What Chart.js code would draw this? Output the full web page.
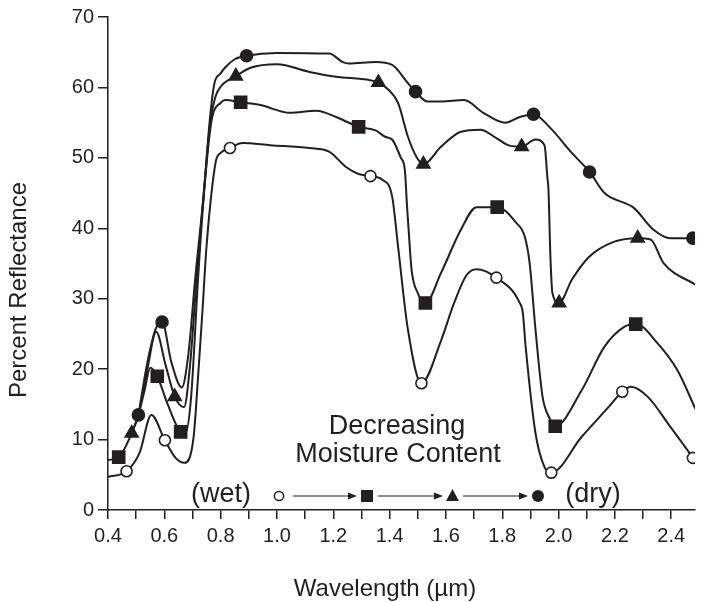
<!DOCTYPE html>
<html>
<head>
<meta charset="utf-8">
<script src="https://cdn.jsdelivr.net/npm/chart.js@4"></script>
<style>
  html, body { margin: 0; padding: 0; background: #fff; }
  canvas { display: block; }
</style>
</head>
<body>
<canvas id="reflChart" width="705" height="602"></canvas>
<script>
// wavelength (um) / percent reflectance
var wetX = [0.40, 0.466, 0.512, 0.554, 0.602, 0.64, 0.672, 0.704, 0.72, 0.735, 0.749, 0.766, 0.784, 0.80, 0.833, 0.878, 0.976, 1.115, 1.185, 1.245, 1.29, 1.332, 1.374, 1.409, 1.43, 1.465, 1.513, 1.583, 1.629, 1.674, 1.709, 1.779, 1.862, 1.873, 1.883, 1.918, 1.95, 1.974, 2.082, 2.177, 2.226, 2.257, 2.316, 2.397, 2.477, 2.49];
var wetY = [4.7, 5.5, 8.1, 13.5, 9.9, 7.4, 6.7, 10.4, 19, 28, 37, 44.5, 49.7, 50.7, 51.4, 52.1, 51.8, 51.4, 50.9, 48.7, 47.7, 47.4, 46.9, 44.5, 37.4, 25.6, 18.0, 24.1, 29.4, 33.4, 34.2, 33.0, 29.4, 28.0, 23.2, 10.9, 6.1, 5.3, 10.4, 14.6, 16.8, 17.5, 16.1, 11.8, 7.4, 6.6];

var sqX = [0.40, 0.438, 0.484, 0.508, 0.53, 0.55, 0.575, 0.61, 0.658, 0.675, 0.695, 0.72, 0.739, 0.763, 0.775, 0.80, 0.815, 0.871, 0.941, 1.046, 1.14, 1.21, 1.29, 1.35, 1.384, 1.409, 1.44, 1.454, 1.462, 1.468, 1.478, 1.50, 1.527, 1.583, 1.653, 1.709, 1.782, 1.849, 1.88, 1.897, 1.918, 1.943, 1.967, 1.988, 2.082, 2.163, 2.233, 2.274, 2.351, 2.421, 2.49];
var sqY = [7.1, 7.5, 10.9, 13.5, 17, 20.2, 19.0, 15.2, 11.1, 10.9, 16, 33, 44, 54, 56.5, 57.8, 58.2, 57.9, 57.5, 56.4, 56.7, 55.8, 54.4, 53.9, 53.0, 52.6, 50, 48.3, 43, 39.5, 34.1, 30.8, 29.4, 33.7, 39.8, 43.0, 43.0, 40.8, 38.8, 35.1, 25.6, 16.1, 13.1, 11.9, 17.0, 23.2, 26.0, 26.4, 23.7, 19.9, 14.0];

var triX = [0.484, 0.508, 0.54, 0.571, 0.605, 0.637, 0.67, 0.69, 0.715, 0.739, 0.763, 0.78, 0.80, 0.854, 0.906, 1.0, 1.115, 1.21, 1.36, 1.395, 1.43, 1.465, 1.496, 1.52, 1.583, 1.653, 1.723, 1.779, 1.828, 1.869, 1.918, 1.95, 1.96, 1.964, 1.971, 1.978, 2.002, 2.047, 2.107, 2.198, 2.281, 2.327, 2.372, 2.49];
var triY = [10.9, 13.5, 20, 25.3, 20.5, 16.1, 14.6, 20, 33, 44.5, 55, 58.5, 60.1, 61.6, 62.8, 63.3, 62.2, 61.5, 60.7, 59.7, 57.8, 53.0, 50.1, 49.1, 51.6, 53.7, 54.0, 52.8, 51.7, 51.6, 52.6, 51.8, 47.3, 45.5, 35.9, 30.8, 29.4, 32.7, 35.9, 38.1, 38.6, 38.4, 35.1, 31.9];

var dryX = [0.508, 0.54, 0.57, 0.592, 0.625, 0.662, 0.685, 0.71, 0.739, 0.763, 0.778, 0.80, 0.815, 0.85, 0.892, 1.0, 1.185, 1.234, 1.255, 1.35, 1.409, 1.465, 1.492, 1.534, 1.583, 1.664, 1.733, 1.81, 1.862, 1.911, 1.967, 2.047, 2.11, 2.163, 2.267, 2.337, 2.397, 2.477, 2.49];
var dryY = [13.5, 21, 25.8, 26.7, 21, 17.4, 22, 33, 44.5, 56, 60.6, 62.0, 62.8, 64.0, 64.5, 64.9, 64.8, 63.6, 63.4, 63.6, 63.2, 60.6, 59.4, 58.0, 58.0, 58.2, 56.4, 55.0, 55.8, 56.2, 54.4, 50.7, 48.0, 45.0, 42.9, 39.8, 38.6, 38.6, 38.6];

// marker positions on each curve
var wetMarkX = [0.466, 0.602, 0.833, 1.332, 1.513, 1.779, 1.974, 2.226, 2.477];
var wetMarkY = [5.5, 9.9, 51.4, 47.4, 18.0, 33.0, 5.3, 16.8, 7.4];
var sqMarkX = [0.438, 0.575, 0.658, 0.871, 1.29, 1.527, 1.782, 1.988, 2.274];
var sqMarkY = [7.5, 19.0, 11.1, 57.9, 54.4, 29.4, 43.0, 11.9, 26.4];
var triMarkX = [0.484, 0.637, 0.854, 1.36, 1.52, 1.869, 2.002, 2.281];
var triMarkY = [10.9, 16.1, 61.6, 60.7, 49.1, 51.6, 29.4, 38.6];
var dryMarkX = [0.508, 0.592, 0.892, 1.492, 1.911, 2.11, 2.477];
var dryMarkY = [13.5, 26.7, 64.5, 59.4, 56.2, 48.0, 38.6];

var xTickLabels = ['0.4', '0.6', '0.8', '1.0', '1.2', '1.4', '1.6', '1.8', '2.0', '2.2', '2.4'];

var ink = '#231f20';
var FONT = '"Liberation Sans", Arial, Helvetica, sans-serif';

function pts(xs, ys) {
    return xs.map(function (x, i) { return { x: x, y: ys[i] }; });
}

function curve(xs, ys) {
    return {
        data: pts(xs, ys),
        showLine: true,
        borderColor: ink,
        borderWidth: 2,
        pointRadius: 0,
        cubicInterpolationMode: 'monotone',
        order: 1
    };
}

function marks(xs, ys, style, r, fill) {
    return {
        data: pts(xs, ys),
        showLine: false,
        pointStyle: style,
        pointRadius: r,
        pointBackgroundColor: fill,
        pointBorderColor: ink,
        pointBorderWidth: 1.6,
        order: 0
    };
}

// text and the wet -> dry key drawn over the plot
var notes = {
    id: 'notes',
    afterDraw: function (chart) {
        var c = chart.ctx;
        c.save();
        c.fillStyle = ink;
        c.strokeStyle = ink;
        c.textAlign = 'center';
        c.textBaseline = 'alphabetic';
        c.font = '27px ' + FONT;
        c.fillText('Decreasing', 397, 434);
        c.fillText('Moisture Content', 398, 462);
        c.fillText('(wet)', 221, 502);
        c.fillText('(dry)', 593, 502);

        var y = 496;
        c.lineWidth = 1.5;
        c.beginPath();
        c.arc(279, y, 4.6, 0, Math.PI * 2);
        c.fillStyle = '#fff';
        c.fill();
        c.stroke();
        c.fillStyle = ink;
        [[293, 357], [378, 443], [463, 528]].forEach(function (a) {
            c.lineWidth = 1.2;
            c.beginPath();
            c.moveTo(a[0], y);
            c.lineTo(a[1] - 6, y);
            c.stroke();
            c.beginPath();
            c.moveTo(a[1], y);
            c.lineTo(a[1] - 9, y - 3.5);
            c.lineTo(a[1] - 9, y + 3.5);
            c.closePath();
            c.fill();
        });
        c.fillRect(361, 490, 12, 12);
        c.beginPath();
        c.moveTo(452.5, 489);
        c.lineTo(459, 501);
        c.lineTo(446, 501);
        c.closePath();
        c.fill();
        c.beginPath();
        c.arc(538, y, 6, 0, Math.PI * 2);
        c.fill();

        c.font = '24px ' + FONT;
        c.fillText('Wavelength (\u00b5m)', 385, 596);
        c.translate(26, 290);
        c.rotate(-Math.PI / 2);
        c.fillText('Percent Reflectance', 0, 0);
        c.restore();
    }
};

new Chart(document.getElementById('reflChart').getContext('2d'), {
    type: 'scatter',
    data: {
        datasets: [
            marks(wetMarkX, wetMarkY, 'circle', 5.5, '#fff'),
            marks(sqMarkX, sqMarkY, 'rect', 8.5, ink),
            marks(triMarkX, triMarkY, 'triangle', 7.5, ink),
            marks(dryMarkX, dryMarkY, 'circle', 6, ink),
            curve(wetX, wetY),
            curve(sqX, sqY),
            curve(triX, triY),
            curve(dryX, dryY)
        ]
    },
    options: {
        responsive: false,
        animation: false,
        layout: { padding: { left: 0, right: 0, top: 17, bottom: 0 } },
        plugins: { legend: { display: false }, tooltip: { enabled: false } },
        scales: {
            x: {
                type: 'linear',
                min: 0.4,
                max: 2.484,
                afterFit: function (scale) { scale.height = 92; },
                border: { display: true, color: ink, width: 1.5 },
                grid: { drawOnChartArea: false, drawTicks: true, tickLength: 9, color: ink, lineWidth: 1.5 },
                ticks: {
                    stepSize: 0.1,
                    includeBounds: false,
                    autoSkip: false,
                    maxRotation: 0,
                    padding: 5,
                    color: ink,
                    font: { family: FONT, size: 20 },
                    callback: function (v) {
                        var k = Math.round(v * 10);
                        if (k % 2 !== 0) return '';
                        return xTickLabels[(k - 4) / 2];
                    }
                }
            },
            y: {
                min: 0,
                max: 70,
                afterFit: function (scale) { scale.width = 108; },
                border: { display: true, color: ink, width: 1.5 },
                grid: { drawOnChartArea: false, drawTicks: true, tickLength: 10, color: ink, lineWidth: 1.5 },
                ticks: {
                    stepSize: 10,
                    padding: 4,
                    color: ink,
                    font: { family: FONT, size: 20 }
                }
            }
        }
    },
    plugins: [notes]
});
</script>
</body>
</html>
